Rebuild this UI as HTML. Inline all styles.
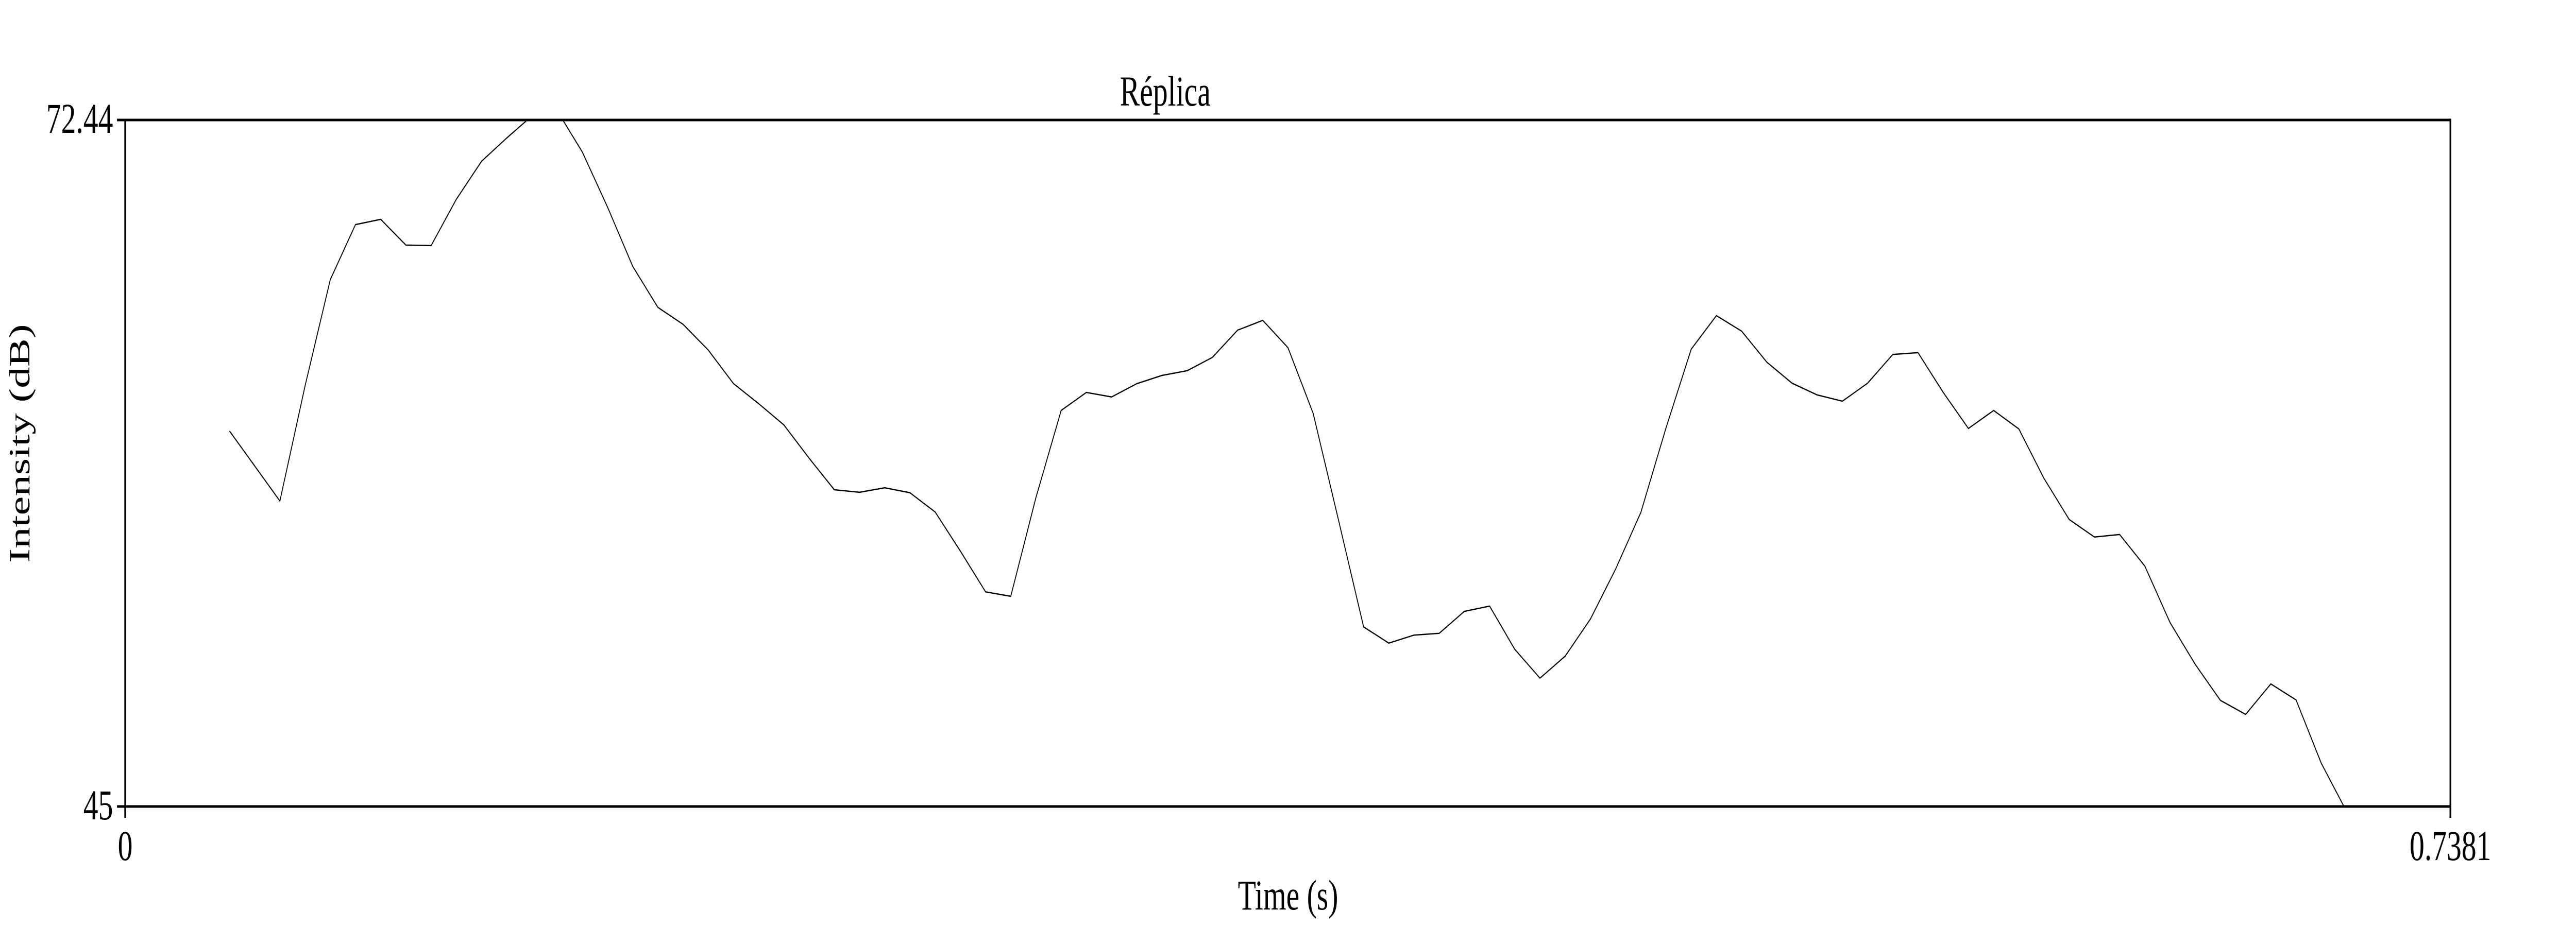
<!DOCTYPE html>
<html><head><meta charset="utf-8"><style>html,body{margin:0;padding:0;background:#fff;width:100%;height:100%;overflow:hidden}svg{display:block;position:absolute;left:0;top:0;width:100vw;height:100vh}text{font-family:"Liberation Serif",serif;fill:#000}</style></head>
<body>
<svg id="chart" viewBox="0 0 7200 1800" preserveAspectRatio="none" xmlns="http://www.w3.org/2000/svg">
<defs><clipPath id="plotclip"><rect x="350" y="233" width="6499" height="1333"/></clipPath></defs>
<rect x="0" y="0" width="7200" height="1800" fill="#fff"/>
<text x="3257" y="205" font-size="83" text-anchor="middle">Réplica</text>
<text x="3600" y="1766" font-size="83" text-anchor="middle">Time (s)</text>
<text transform="translate(82,861) rotate(-90)" font-size="83" text-anchor="middle">Intensity (dB)</text>
<g id="axes"></g>
<g id="series" clip-path="url(#plotclip)"></g>
<rect x="350" y="233" width="6499" height="1333" fill="none" stroke="#000" stroke-width="5"/>
</svg>
<script>
const xDomain = [0, 0.7381];
const yDomain = [45, 72.44];
const xTickLabels = ["0", "0.7381"];
const yTickLabels = ["45", "72.44"];
const times = [0.0331,0.0411,0.0491,0.0571,0.0651,0.0731,0.0811,0.0891,0.0971,0.1051,
0.1131,0.1211,0.1291,0.1371,0.1451,0.1531,0.1611,0.1691,0.1771,0.1851,
0.1931,0.2011,0.2091,0.2171,0.2251,0.2331,0.2411,0.2491,0.2571,0.2651,
0.2731,0.2811,0.2891,0.2971,0.3051,0.3131,0.3211,0.3291,0.3371,0.3451,
0.3531,0.3611,0.3691,0.3771,0.3851,0.3931,0.4011,0.4091,0.4171,0.4251,
0.4331,0.4411,0.4491,0.4571,0.4651,0.4731,0.4811,0.4891,0.4971,0.5051,
0.5131,0.5211,0.5291,0.5371,0.5451,0.5531,0.5611,0.5691,0.5771,0.5851,
0.5931,0.6011,0.6091,0.6171,0.6251,0.6331,0.6411,0.6491,0.6571,0.6651,
0.6731,0.6811,0.6891,0.6971,0.7051];
const intensity = [60.01,58.61,57.21,61.82,66.06,68.26,68.47,67.44,67.42,69.27,
70.79,71.72,72.60,72.81,71.16,68.96,66.59,64.95,64.27,63.24,
61.90,61.10,60.25,58.92,57.66,57.56,57.74,57.54,56.77,55.21,
53.58,53.40,57.35,60.83,61.55,61.37,61.90,62.23,62.42,62.95,
64.04,64.43,63.34,60.71,56.47,52.18,51.53,51.85,51.92,52.80,
53.01,51.28,50.13,51.01,52.49,54.49,56.75,60.13,63.28,64.62,
64.00,62.76,61.92,61.45,61.20,61.92,63.07,63.14,61.55,60.11,
60.83,60.09,58.11,56.47,55.77,55.87,54.61,52.35,50.68,49.24,
48.68,49.90,49.26,46.73,44.81];

const NS = "http://www.w3.org/2000/svg";
const PX0 = 350, PX1 = 6849, PY0 = 233, PY1 = 1566;
function xScale(t){ return PX0 + (t - xDomain[0]) / (xDomain[1] - xDomain[0]) * (PX1 - PX0); }
function yScale(v){ return PY1 - (v - yDomain[0]) / (yDomain[1] - yDomain[0]) * (PY1 - PY0); }

const axes = document.getElementById('axes');
[xDomain[0], xDomain[1]].forEach(function(v, i){
  const x = xScale(v);
  const tk = document.createElementNS(NS, 'line');
  tk.setAttribute('x1', x); tk.setAttribute('x2', x);
  tk.setAttribute('y1', PY1); tk.setAttribute('y2', PY1 + 22);
  tk.setAttribute('stroke', '#000'); tk.setAttribute('stroke-width', '5');
  
  
  axes.appendChild(tk);
  const tx = document.createElementNS(NS, 'text');
  tx.setAttribute('x', x); tx.setAttribute('y', 1670);
  tx.setAttribute('font-size', '83'); tx.setAttribute('text-anchor', 'middle');
  tx.textContent = xTickLabels[i];
  
  
  axes.appendChild(tx);
});
[yDomain[0], yDomain[1]].forEach(function(v, i){
  const y = yScale(v);
  const tk = document.createElementNS(NS, 'line');
  tk.setAttribute('x1', PX0 - 23); tk.setAttribute('x2', PX0);
  tk.setAttribute('y1', y); tk.setAttribute('y2', y);
  tk.setAttribute('stroke', '#000'); tk.setAttribute('stroke-width', '5');
  
  
  axes.appendChild(tk);
  const tx = document.createElementNS(NS, 'text');
  tx.setAttribute('x', 316); tx.setAttribute('y', y + 25);
  tx.setAttribute('font-size', '83'); tx.setAttribute('text-anchor', 'end');
  tx.textContent = yTickLabels[i];
  
  
  axes.appendChild(tx);
});

const series = document.getElementById('series');
const pts = times.map(function(t, i){ return xScale(t).toFixed(1) + ',' + yScale(intensity[i]).toFixed(1); }).join(' ');
const pl = document.createElementNS(NS, 'polyline');
pl.setAttribute('points', pts);
pl.setAttribute('fill', 'none');
pl.setAttribute('stroke', '#000');
pl.setAttribute('stroke-width', '2.5');
pl.setAttribute('stroke-linejoin', 'round');


series.appendChild(pl);
</script>
</body></html>
